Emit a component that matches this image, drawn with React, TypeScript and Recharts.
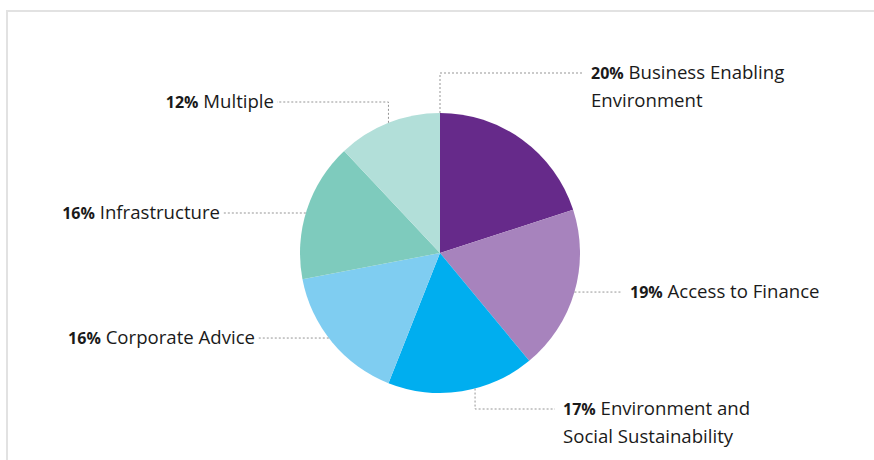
import { PieChart, Pie, Cell } from 'recharts';

const categories = [
  'Business Enabling Environment',
  'Access to Finance',
  'Environment and Social Sustainability',
  'Corporate Advice',
  'Infrastructure',
  'Multiple',
];
const shares = [20, 19, 17, 16, 16, 12];
const colors = ['#662a8a', '#a783bd', '#00aeef', '#7fcdf1', '#7ecbbd', '#b2dfd9'];

// leader line routing per slice (angles in degrees, offsets in px from the pie centre)
const labelLayout = [
  { anchor: 'start', shift: 0, elbowY: -180, endX: 143, wrap: 2 },
  { anchor: 'mid', shift: 0, elbowY: null, endX: 182, wrap: 0 },
  { anchor: 'mid', shift: 5.5, elbowY: 156, endX: 115, wrap: 2 },
  { anchor: 'mid', shift: -2.2, elbowY: null, endX: -182, wrap: 0 },
  { anchor: 'mid', shift: 1.4, elbowY: null, endX: -217, wrap: 0 },
  { anchor: 'mid', shift: 0, elbowY: -151, endX: -163, wrap: 0 },
];

const data = categories.map((name, i) => ({ name, value: shares[i] }));

const RAD = Math.PI / 180;
const FONT = '"Open Sans", "Noto Sans", sans-serif';

function renderLabel(props: any) {
  const { cx, cy, outerRadius, midAngle, startAngle, index, name, value } = props;
  const cfg = labelLayout[index];
  const angle = (cfg.anchor === 'start' ? startAngle : midAngle) + cfg.shift;
  const ax = cx + outerRadius * Math.cos(-angle * RAD);
  const ay = cy + outerRadius * Math.sin(-angle * RAD);
  const ly = cfg.elbowY === null ? ay : cy + cfg.elbowY;
  const ex = cx + cfg.endX;
  const right = cfg.endX > 0;
  const path = cfg.elbowY === null
    ? `M${ax},${ay}L${ex},${ly}`
    : `M${ax},${ay}L${ax},${ly}L${ex},${ly}`;
  const words = String(name).split(' ');
  const lines = cfg.wrap ? [words.slice(0, cfg.wrap).join(' '), words.slice(cfg.wrap).join(' ')] : [name];
  const tx = right ? ex + 8 : ex - 3;
  return (
    <g key={`lbl-${index}`}>
      <path d={path} stroke="#959595" strokeWidth={1} strokeDasharray="2 2" fill="none" />
      <text x={tx} y={ly + 6} textAnchor={right ? 'start' : 'end'} fill="#1a1a1a" fontFamily={FONT} fontSize={18.6}>
        <tspan fontWeight={700} fontSize={16}>{`${value}%`}</tspan>
        <tspan>{` ${lines[0]}`}</tspan>
        {lines[1] && (
          <tspan x={tx} dy={28}>{lines[1]}</tspan>
        )}
      </text>
    </g>
  );
}

export default function App() {
  return (
    <div style={{ position: 'absolute', left: 0, top: 0, width: 874, height: 460, background: '#fff', overflow: 'hidden' }}>
      <div
        style={{
          position: 'absolute',
          left: 6,
          top: 10,
          width: 900,
          height: 500,
          borderTop: '2px solid #e2e2e2',
          borderLeft: '2px solid #e2e2e2',
        }}
      />
      <div style={{ position: 'absolute', left: 0, top: 0 }}>
        <PieChart width={874} height={460} margin={{ top: 0, right: 0, bottom: 0, left: 0 }}>
          <Pie
            data={data}
            dataKey="value"
            nameKey="name"
            cx={440}
            cy={253}
            outerRadius={140}
            startAngle={90}
            endAngle={-270}
            stroke="none"
            label={renderLabel}
            labelLine={false}
            isAnimationActive={false}
          >
            {data.map((d, i) => (
              <Cell key={d.name} fill={colors[i]} />
            ))}
          </Pie>
        </PieChart>
      </div>
    </div>
  );
}
